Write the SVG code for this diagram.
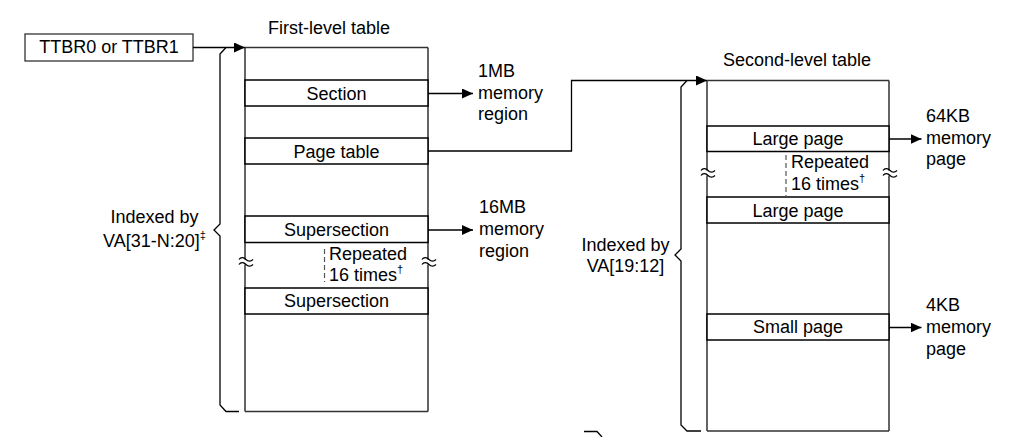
<svg xmlns="http://www.w3.org/2000/svg" width="1029" height="437" viewBox="0 0 1029 437">
<style>
text{font-family:"Liberation Sans",Arial,sans-serif;font-size:18px;fill:#000}
.c{text-anchor:middle}
.ln{fill:none;stroke:#000;stroke-width:1.3}
.tb{fill:none;stroke:#333;stroke-width:1.5}
.row{fill:#fff;stroke:#000;stroke-width:1.5}
.dash{fill:none;stroke:#555;stroke-width:1.2;stroke-dasharray:5,3}
.sup{font-size:11px}
</style>
<defs>
<marker id="ah" markerUnits="userSpaceOnUse" markerWidth="12" markerHeight="10" refX="11" refY="5" orient="auto">
<path d="M0,0 L11,5 L0,10 Z" fill="#000"/>
</marker>
</defs>
<rect width="1029" height="437" fill="#fff"/>

<g id="ttbr">
<rect x="25" y="34" width="168" height="27" fill="#fff" stroke="#333" stroke-width="1.3"/>
<text class="c" x="109" y="53">TTBR0 or TTBR1</text>
</g>

<g id="first-level-table">
<text x="268" y="33.5">First-level table</text>
<path class="tb" d="M245,47.5 H428 M245,47.5 V259.5 M245,264.5 V411.5 M428,47.5 V259.5 M428,264.5 V411.5 M245,411.5 H428"/>
<path class="ln" d="M239,259.5 c2,-3 5,-2 7,0 s5,2 7,0 M239,264.5 c2,-3 5,-2 7,0 s5,2 7,0 M422,259.5 c2,-3 5,-2 7,0 s5,2 7,0 M422,264.5 c2,-3 5,-2 7,0 s5,2 7,0"/>
<g id="section"><rect class="row" x="245" y="80" width="183" height="26"/><text class="c" x="336.5" y="99.5">Section</text></g>
<g id="page-table"><rect class="row" x="245" y="138" width="183" height="26"/><text class="c" x="336.5" y="157.5">Page table</text></g>
<g id="supersection1"><rect class="row" x="245" y="216" width="183" height="26.5"/><text class="c" x="336.5" y="235.5">Supersection</text></g>
<g id="supersection2"><rect class="row" x="245" y="288" width="183" height="26"/><text class="c" x="336.5" y="307">Supersection</text></g>
<g id="repeated1">
<line class="dash" x1="324.5" y1="249" x2="324.5" y2="282"/>
<text x="329" y="260">Repeated</text>
<text x="329" y="281">16 times<tspan class="sup" dy="-8">†</tspan></text>
</g>
</g>

<g id="index1">
<path class="ln" d="M226,47.5 L220,54 V224 L214,230 L220,236 V405 L226,411.5 H239"/>
<text class="c" x="154.5" y="223">Indexed by</text>
<text class="c" x="154.5" y="246.5">VA[31-N:20]<tspan class="sup" dy="-8">‡</tspan></text>
</g>

<g id="mem-1mb"><text x="478" y="77">1MB</text><text x="478" y="98.5">memory</text><text x="478" y="120">region</text></g>
<g id="mem-16mb"><text x="479" y="213">16MB</text><text x="479" y="235">memory</text><text x="479" y="257">region</text></g>

<g id="second-level-table">
<text x="723" y="66">Second-level table</text>
<path class="tb" d="M707,80.5 H889 M707,80.5 V170.5 M707,175.5 V431 M889,80.5 V170.5 M889,175.5 V431 M707,431 H889"/>
<path class="ln" d="M701,170.5 c2,-3 5,-2 7,0 s5,2 7,0 M701,175.5 c2,-3 5,-2 7,0 s5,2 7,0 M883,170.5 c2,-3 5,-2 7,0 s5,2 7,0 M883,175.5 c2,-3 5,-2 7,0 s5,2 7,0"/>
<g id="large-page1"><rect class="row" x="707" y="126" width="182" height="25.5"/><text class="c" x="798" y="145">Large page</text></g>
<g id="large-page2"><rect class="row" x="707" y="197" width="182" height="26"/><text class="c" x="798" y="216.5">Large page</text></g>
<g id="small-page"><rect class="row" x="707" y="314" width="182" height="26"/><text class="c" x="798" y="333">Small page</text></g>
<g id="repeated2">
<line class="dash" x1="786" y1="155" x2="786" y2="197"/>
<text x="791" y="168">Repeated</text>
<text x="791" y="190">16 times<tspan class="sup" dy="-8">†</tspan></text>
</g>
</g>

<g id="index2">
<path class="ln" d="M687,80.5 L681,87 V249 L675,255 L681,261 V425 L687,431 H701"/>
<text class="c" x="625.5" y="251">Indexed by</text>
<text class="c" x="625.5" y="272">VA[19:12]</text>
</g>

<g id="mem-64kb"><text x="926" y="122">64KB</text><text x="926" y="143.5">memory</text><text x="926" y="165">page</text></g>
<g id="mem-4kb"><text x="926" y="311">4KB</text><text x="926" y="333">memory</text><text x="926" y="355">page</text></g>

<g id="connectors">
<path class="ln" d="M193,47.5 H245" marker-end="url(#ah)"/>
<path class="ln" d="M428,93.5 H473" marker-end="url(#ah)"/>
<path class="ln" d="M428,151 H571.5 V80.5 H707" marker-end="url(#ah)"/>
<path class="ln" d="M428,230 H473" marker-end="url(#ah)"/>
<path class="ln" d="M889,139 H921.5" marker-end="url(#ah)"/>
<path class="ln" d="M889,327.5 H921.5" marker-end="url(#ah)"/>
<path class="ln" d="M584,431.5 H597 L602,437"/>
</g>
</svg>
